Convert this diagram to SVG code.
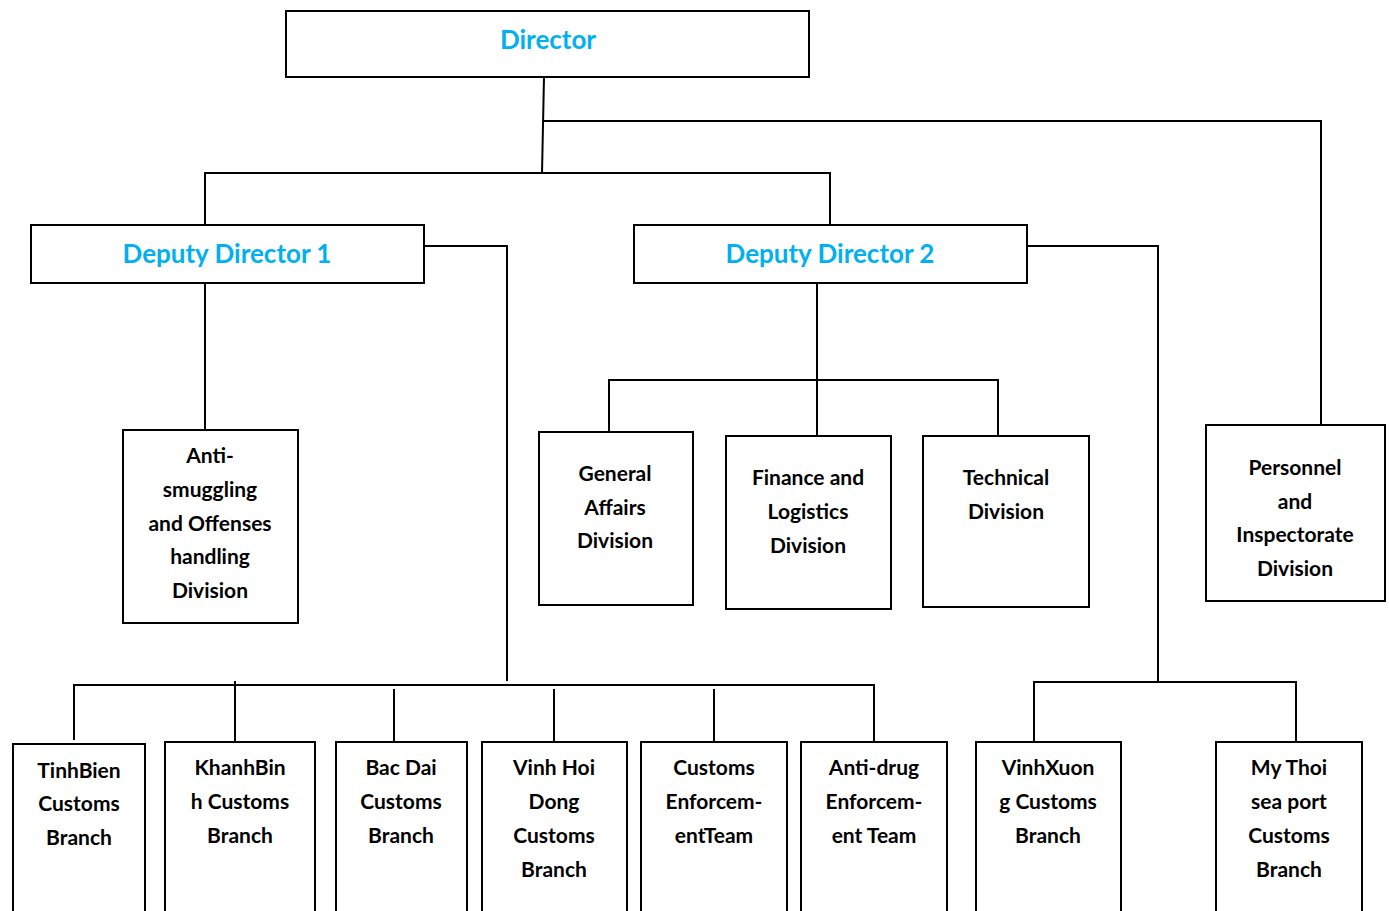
<svg xmlns="http://www.w3.org/2000/svg" width="1389" height="911" viewBox="0 0 1389 911">
<style>
.box{fill:#fff;stroke:#000;stroke-width:2}
.ln{fill:none;stroke:#000;stroke-width:2}
.t{font-family:Lato,"Open Sans","Liberation Sans",sans-serif;font-weight:bold;font-size:21px;fill:#000;text-anchor:middle}
.h{font-family:Lato,"Open Sans","Liberation Sans",sans-serif;font-weight:bold;font-size:26px;fill:#00B0F0;text-anchor:middle}
</style>
<rect width="1389" height="911" fill="#fff"/>
<g id="connectors">
<path class="ln" d="M544 77 L542 173"/>
<path class="ln" d="M543 121 H1321 V425"/>
<path class="ln" d="M205 225 V173 H830 V225"/>
<path class="ln" d="M205 283 V430"/>
<path class="ln" d="M424 246 H507 V681"/>
<path class="ln" d="M817 283 V436"/>
<path class="ln" d="M609 432 V380 H998 V436"/>
<path class="ln" d="M1027 246 H1158 V682"/>
<path class="ln" d="M1034 742 V682 H1296 V742"/>
<path class="ln" d="M74 740 V685 H874 V742"/>
<path class="ln" d="M235 681 V742"/>
<path class="ln" d="M394 689 V742"/>
<path class="ln" d="M554 689 V742"/>
<path class="ln" d="M714 689 V742"/>
</g>
<g id="director"><rect class="box" x="286" y="11" width="523" height="66"/><text class="h" x="548" y="49">Director</text></g>
<g id="dd1"><rect class="box" x="31" y="225" width="393" height="58"/><text class="h" x="227" y="263">Deputy Director 1</text></g>
<g id="dd2"><rect class="box" x="634" y="225" width="393" height="58"/><text class="h" x="830" y="263">Deputy Director 2</text></g>
<g id="antismuggling"><rect class="box" x="123" y="430" width="175" height="193"/>
<text class="t" x="210" y="463">Anti-</text><text class="t" x="210" y="497">smuggling</text><text class="t" x="210" y="531">and Offenses</text><text class="t" x="210" y="564">handling</text><text class="t" x="210" y="598">Division</text></g>
<g id="general"><rect class="box" x="539" y="432" width="154" height="173"/>
<text class="t" x="615" y="481">General</text><text class="t" x="615" y="515">Affairs</text><text class="t" x="615" y="548">Division</text></g>
<g id="finance"><rect class="box" x="726" y="436" width="165" height="173"/>
<text class="t" x="808" y="485">Finance and</text><text class="t" x="808" y="519">Logistics</text><text class="t" x="808" y="553">Division</text></g>
<g id="technical"><rect class="box" x="923" y="436" width="166" height="171"/>
<text class="t" x="1006" y="485">Technical</text><text class="t" x="1006" y="519">Division</text></g>
<g id="personnel"><rect class="box" x="1206" y="425" width="179" height="176"/>
<text class="t" x="1295" y="475">Personnel</text><text class="t" x="1295" y="509">and</text><text class="t" x="1295" y="542">Inspectorate</text><text class="t" x="1295" y="576">Division</text></g>
<g id="tinhbien"><rect class="box" x="13" y="744" width="132" height="180"/>
<text class="t" x="79" y="778">TinhBien</text><text class="t" x="79" y="811">Customs</text><text class="t" x="79" y="845">Branch</text></g>
<g id="khanhbinh"><rect class="box" x="165" y="742" width="150" height="180"/>
<text class="t" x="240" y="775">KhanhBin</text><text class="t" x="240" y="809">h Customs</text><text class="t" x="240" y="843">Branch</text></g>
<g id="bacdai"><rect class="box" x="336" y="742" width="131" height="180"/>
<text class="t" x="401" y="775">Bac Dai</text><text class="t" x="401" y="809">Customs</text><text class="t" x="401" y="843">Branch</text></g>
<g id="vinhhoi"><rect class="box" x="482" y="742" width="145" height="180"/>
<text class="t" x="554" y="775">Vinh Hoi</text><text class="t" x="554" y="809">Dong</text><text class="t" x="554" y="843">Customs</text><text class="t" x="554" y="877">Branch</text></g>
<g id="customsenf"><rect class="box" x="641" y="742" width="146" height="180"/>
<text class="t" x="714" y="775">Customs</text><text class="t" x="714" y="809">Enforcem-</text><text class="t" x="714" y="843">entTeam</text></g>
<g id="antidrug"><rect class="box" x="801" y="742" width="146" height="180"/>
<text class="t" x="874" y="775">Anti-drug</text><text class="t" x="874" y="809">Enforcem-</text><text class="t" x="874" y="843">ent Team</text></g>
<g id="vinhxuong"><rect class="box" x="976" y="742" width="145" height="180"/>
<text class="t" x="1048" y="775">VinhXuon</text><text class="t" x="1048" y="809">g Customs</text><text class="t" x="1048" y="843">Branch</text></g>
<g id="mythoi"><rect class="box" x="1216" y="742" width="146" height="180"/>
<text class="t" x="1289" y="775">My Thoi</text><text class="t" x="1289" y="809">sea port</text><text class="t" x="1289" y="843">Customs</text><text class="t" x="1289" y="877">Branch</text></g>
</svg>
